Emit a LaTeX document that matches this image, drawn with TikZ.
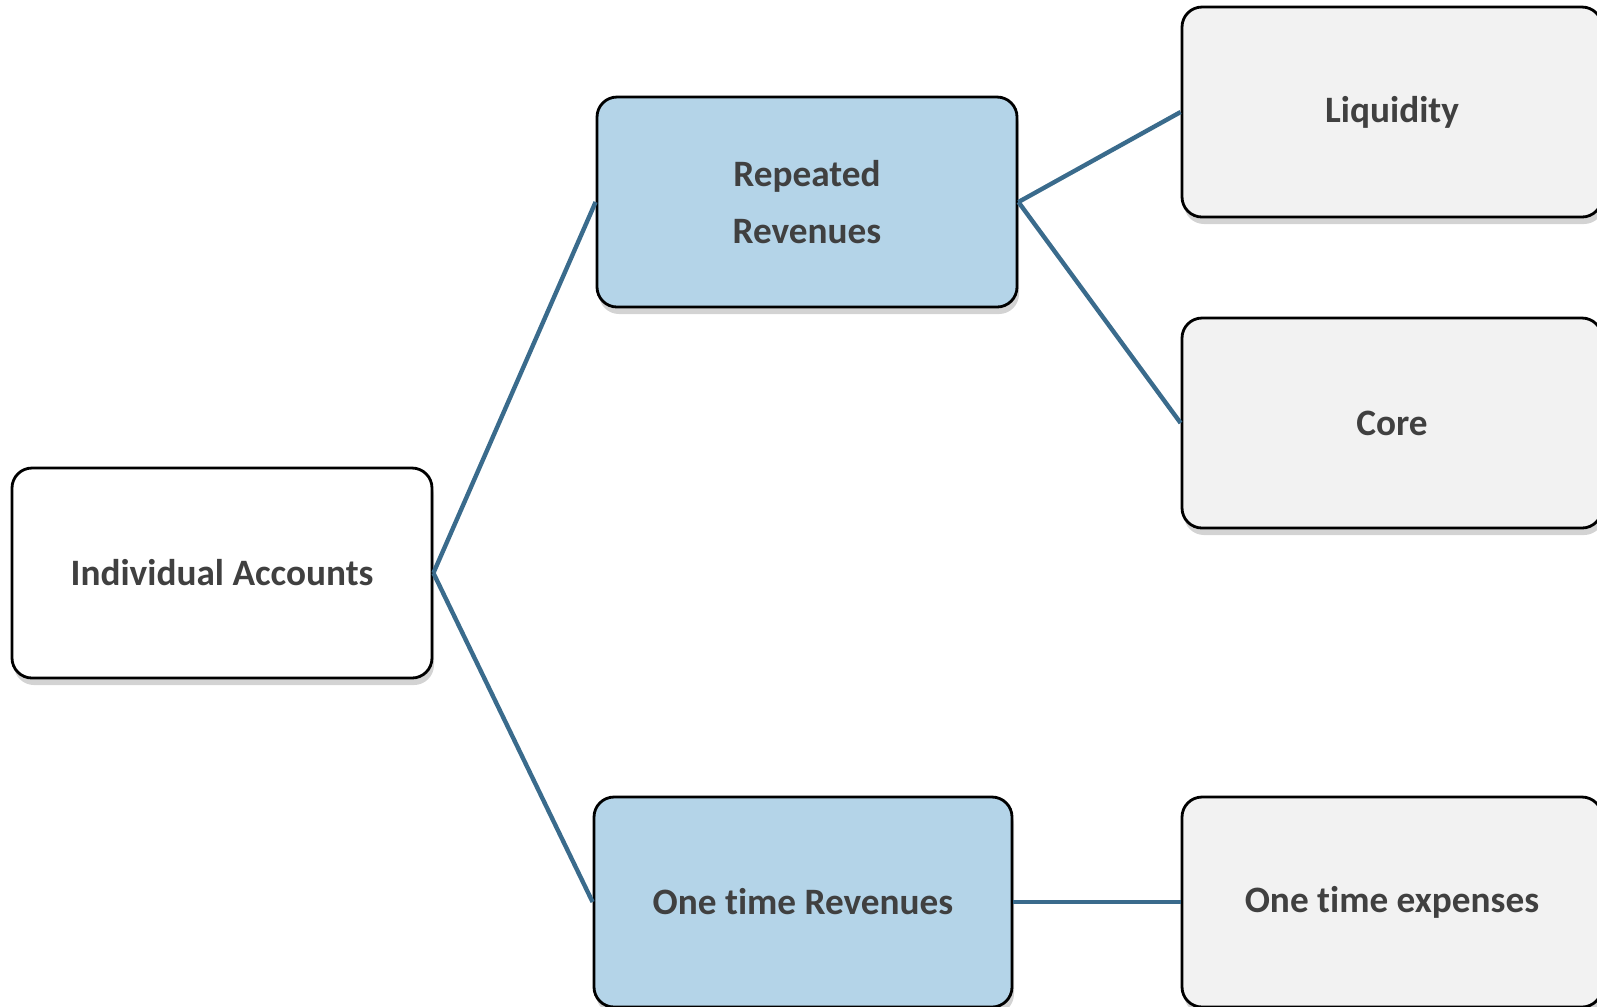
\documentclass[tikz,border=0pt]{standalone}
\usepackage{fontspec}
\setmainfont{Carlito}[Ligatures=NoCommon]
\usepackage{xcolor}
\usetikzlibrary{shadows}
\definecolor{linkblue}{HTML}{3A6B8C}
\definecolor{boxblue}{HTML}{B4D4E8}
\definecolor{boxgray}{HTML}{F2F2F2}
\definecolor{textgray}{HTML}{404040}

\begin{document}
\begin{tikzpicture}[
  every node/.style={rectangle, rounded corners=2mm, draw=black, line width=0.8pt,
    minimum width=4.2cm, minimum height=2.1cm, align=center, text=textgray,
    font=\bfseries\fontsize{10.6}{16.2}\selectfont,
    drop shadow={opacity=0.35, shadow xshift=0.2mm, shadow yshift=-0.7mm}},
  every path/.style={line width=1.25pt},
]
\tikzset{root/.style={fill=white}, mid/.style={fill=boxblue}, leaf/.style={fill=boxgray}}

  \useasboundingbox (0,0) rectangle (15.97,-10.06);

  % Nodes
  \node[root] (ind) at (2.22, -5.73)  {Individual Accounts};
  \node[mid]  (rep) at (8.07, -2.02)  {Repeated\\Revenues};
  \node[mid, minimum width=4.18cm] (one) at (8.03, -9.02) {One time Revenues};
  \node[leaf] (liq) at (13.92, -1.12) {Liquidity};
  \node[leaf] (core) at (13.92, -4.23) {Core};
  \node[leaf] (exp) at (13.92, -9.02) {One time expenses};

  % Edges
  \draw[linkblue] (ind.east) -- (rep.west);
  \draw[linkblue] (ind.east) -- (one.west);
  \draw[linkblue] (rep.east) -- (liq.west);
  \draw[linkblue] (rep.east) -- (core.west);
  \draw[linkblue] (one.east) -- (exp.west);

\end{tikzpicture}
\end{document}
